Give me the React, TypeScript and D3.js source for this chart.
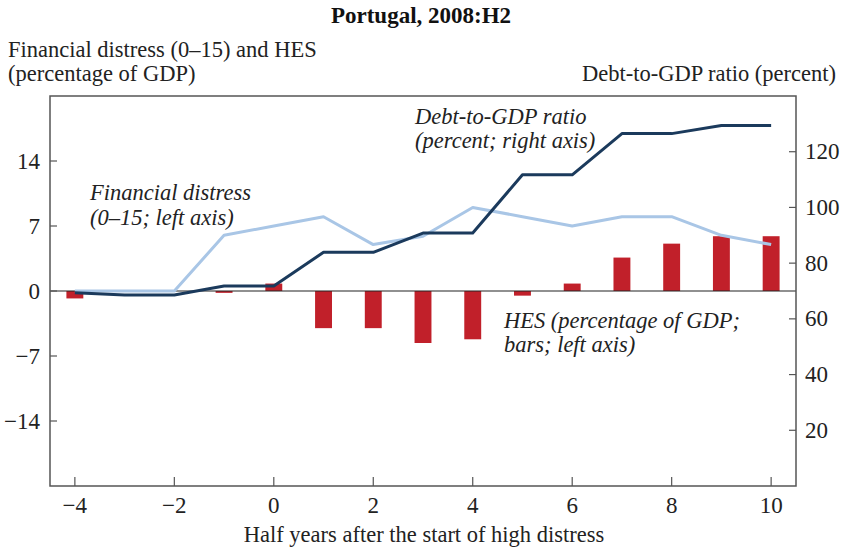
import React from "react";
import * as d3 from "d3";

const periods = [-4, -3, -2, -1, 0, 1, 2, 3, 4, 5, 6, 7, 8, 9, 10];
const hesBars = [-0.8, 0.1, 0, -0.2, 0.8, -4.0, -4.0, -5.6, -5.2, -0.5, 0.8, 3.6, 5.1, 5.9, 5.9];
const financialDistress = [0, 0, 0, 6.0, 7.0, 8.0, 5.0, 5.9, 9.0, 8.0, 7.0, 8.0, 8.0, 6.0, 5.0];
const debtToGdp = [69.4, 68.6, 68.6, 71.8, 71.8, 83.9, 83.9, 90.8, 90.8, 111.7, 111.7, 126.5, 126.5, 129.4, 129.4];
const xTicks = [-4, -2, 0, 2, 4, 6, 8, 10];
const leftTicks = [-14, -7, 0, 7, 14];
const rightTicks = [20, 40, 60, 80, 100, 120];

const W = 843;
const H = 549;
const M = { left: 50, right: 796, top: 96, bottom: 486 };
const serif = "'Liberation Serif', 'Times New Roman', serif";
const axisColor = "#555";

export default function App() {
  const x = d3.scaleLinear().domain([-4.5, 10.5]).range([M.left, M.right]);
  const yL = d3.scaleLinear().domain([-21, 21]).range([M.bottom, M.top]);
  const yR = d3.scaleLinear().domain([0, 140]).range([M.bottom, M.top]);
  const barW = (x(1) - x(0)) * 0.34;

  const fdLine = d3
    .line<number>()
    .x((_, i) => x(periods[i]))
    .y((d) => yL(d))(financialDistress) as string;
  const debtLine = d3
    .line<number>()
    .x((_, i) => x(periods[i]))
    .y((d) => yR(d))(debtToGdp) as string;

  const fmt = (v: number) => (v < 0 ? "\u2212" + Math.abs(v) : String(v));

  return (
    <svg width={W} height={H} style={{ position: "absolute", left: 0, top: 0 }} fontFamily={serif}>
      <rect width={W} height={H} fill="#fff" />
      <text x={421} y={23} textAnchor="middle" fontWeight="bold" fontSize={23} fill="#111">
        Portugal, 2008:H2
      </text>
      <text x={8} y={57} fontSize={22.5} fill="#222">
        Financial distress (0–15) and HES
      </text>
      <text x={8} y={81} fontSize={22.5} fill="#222">
        (percentage of GDP)
      </text>
      <text x={836} y={81} textAnchor="end" fontSize={22.5} fill="#222">
        Debt-to-GDP ratio (percent)
      </text>

      {/* bars */}
      {hesBars.map((v, i) => (
        <rect
          key={i}
          x={x(periods[i]) - barW / 2}
          y={Math.min(yL(v), yL(0))}
          width={barW}
          height={Math.abs(yL(v) - yL(0))}
          fill="#c1202a"
        />
      ))}
      <line x1={M.left} x2={M.right} y1={yL(0)} y2={yL(0)} stroke="#222" strokeWidth={1.2} />

      <path d={fdLine} fill="none" stroke="#a9c6e6" strokeWidth={3} strokeLinejoin="round" />
      <path d={debtLine} fill="none" stroke="#1b3a5c" strokeWidth={3} strokeLinejoin="round" />

      {/* frame */}
      <rect
        x={M.left}
        y={M.top}
        width={M.right - M.left}
        height={M.bottom - M.top}
        fill="none"
        stroke={axisColor}
        strokeWidth={1.5}
      />

      {/* x ticks */}
      {xTicks.map((t) => (
        <g key={"x" + t}>
          <line x1={x(t)} x2={x(t)} y1={M.bottom} y2={M.bottom - 9} stroke={axisColor} strokeWidth={1.2} />
          <text x={x(t)} y={513} textAnchor="middle" fontSize={23} fill="#222">
            {fmt(t)}
          </text>
        </g>
      ))}
      {/* left ticks */}
      {leftTicks.map((t) => (
        <g key={"l" + t}>
          <line x1={M.left} x2={M.left + 7} y1={yL(t)} y2={yL(t)} stroke={axisColor} strokeWidth={1.2} />
          <text x={40} y={yL(t) + 7.5} textAnchor="end" fontSize={23} fill="#222">
            {fmt(t)}
          </text>
        </g>
      ))}
      {/* right ticks */}
      {rightTicks.map((t) => (
        <g key={"r" + t}>
          <line x1={M.right - 7} x2={M.right} y1={yR(t)} y2={yR(t)} stroke={axisColor} strokeWidth={1.2} />
          <text x={805} y={yR(t) + 7.5} textAnchor="start" fontSize={23} fill="#222">
            {t}
          </text>
        </g>
      ))}

      <text x={424} y={542} textAnchor="middle" fontSize={22.5} fill="#222">
        Half years after the start of high distress
      </text>

      {/* annotations */}
      <g fontStyle="italic" fontSize={22.5} fill="#222">
        <text x={415} y={124}>Debt-to-GDP ratio</text>
        <text x={415} y={148}>(percent; right axis)</text>
        <text x={90} y={200}>Financial distress</text>
        <text x={90} y={225}>(0–15; left axis)</text>
        <text x={504} y={328}>HES (percentage of GDP;</text>
        <text x={504} y={352}>bars; left axis)</text>
      </g>
    </svg>
  );
}
